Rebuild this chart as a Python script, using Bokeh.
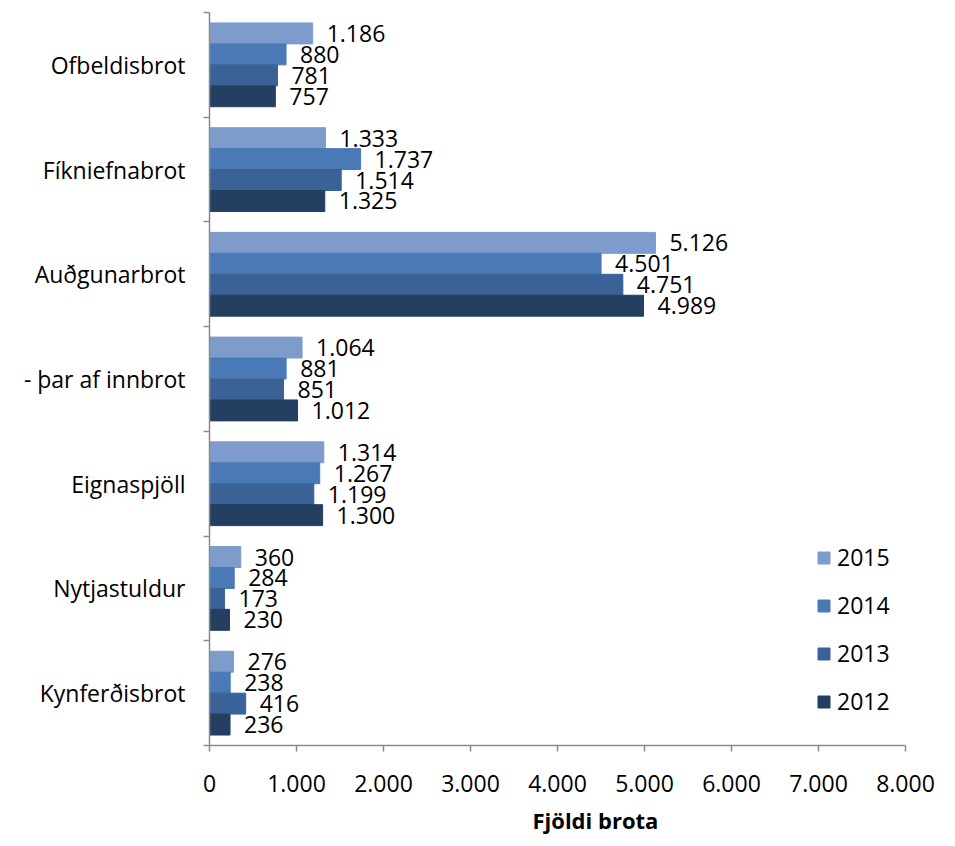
from bokeh.plotting import figure
from bokeh.models import FixedTicker, Range1d, ColumnDataSource, Title
from bokeh.transform import dodge
from bokeh.core.properties import value
from bokeh.embed import file_html
from bokeh.resources import INLINE

categories = ["Ofbeldisbrot", "Fíkniefnabrot", "Auðgunarbrot", "- þar af innbrot",
              "Eignaspjöll", "Nytjastuldur", "Kynferðisbrot"]
years = ["2015", "2014", "2013", "2012"]
v2015 = [1186, 1333, 5126, 1064, 1314, 360, 276]
v2014 = [880, 1737, 4501, 881, 1267, 284, 238]
v2013 = [781, 1514, 4751, 851, 1199, 173, 416]
v2012 = [757, 1325, 4989, 1012, 1300, 230, 236]
x_ticks = [0, 1000, 2000, 3000, 4000, 5000, 6000, 7000, 8000]
x_tick_labels = ["0", "1.000", "2.000", "3.000", "4.000", "5.000", "6.000", "7.000", "8.000"]
colors = ["#7E9CCB", "#4A7AB5", "#3B6296", "#243F62"]
axis_title = "Fjöldi brota"

FONT = "Open Sans"
FS = "23px"

def fmt(v):
    return f"{v:,}".replace(",", ".")

n = len(categories)
ypos = [n - 1 - i + 0.5 for i in range(n)]
series = {"2015": v2015, "2014": v2014, "2013": v2013, "2012": v2012}
data = dict(cat=categories, ypos=ypos)
for y, vals in series.items():
    data["v" + y] = vals
    data["l" + y] = [fmt(v) for v in vals]
src = ColumnDataSource(data)

p = figure(width=950, height=846, output_backend="svg", toolbar_location=None,
           x_range=Range1d(0, 8000), y_range=Range1d(0, n),
           min_border_left=209, min_border_right=45, min_border_top=12, min_border_bottom=101)
p.outline_line_color = None
p.xgrid.visible = False
p.ygrid.visible = False

offsets = [0.3, 0.1, -0.1, -0.3]
for y, off, c in zip(years, offsets, colors):
    p.hbar(y=dodge("ypos", off), left=0, right="v" + y, height=0.2, source=src,
           fill_color=c, line_color=c, legend_label=y)
for y, off in zip(years, offsets):
    p.text(x="v" + y, y=dodge("ypos", off), text="l" + y, source=src, x_offset=14,
           text_baseline="middle", text_align="left", text_font=value(FONT),
           text_font_size=FS, text_color="#000000")

axc = "#8a8a8a"
xa = p.xaxis[0]
xa.ticker = FixedTicker(ticks=x_ticks)
xa.major_label_overrides = {t: l for t, l in zip(x_ticks, x_tick_labels)}
xa.axis_line_color = axc
xa.axis_line_width = 1.5
xa.major_tick_line_color = axc
xa.major_tick_line_width = 1.5
xa.major_tick_out = 6
xa.major_tick_in = 0
xa.minor_tick_line_color = None
xa.major_label_text_font = FONT
xa.major_label_text_font_size = FS
xa.major_label_text_color = "#000000"
xa.major_label_standoff = 23

ya = p.yaxis[0]
ya.ticker = FixedTicker(ticks=ypos, minor_ticks=list(range(n + 1)))
ya.major_label_overrides = {yp: c for yp, c in zip(ypos, categories)}
ya.axis_line_color = axc
ya.axis_line_width = 1.5
ya.major_tick_line_color = None
ya.major_tick_out = 0
ya.major_tick_in = 0
ya.minor_tick_line_color = axc
ya.minor_tick_line_width = 1.5
ya.minor_tick_out = 6
ya.minor_tick_in = 0
ya.major_label_text_font = FONT
ya.major_label_text_font_size = FS
ya.major_label_text_color = "#000000"
ya.major_label_standoff = 18

title = Title(text=axis_title, align="left", offset=323, standoff=20,
              text_font=FONT, text_font_style="bold", text_font_size="22px",
              text_line_height=0.5, vertical_align="top",
              text_color="#000000")
p.add_layout(title, "below")

lg = p.legend[0]
lg.location = (607, 28)
lg.padding = 0
lg.margin = 0
lg.border_line_alpha = 0
lg.background_fill_alpha = 0
lg.glyph_width = 15
lg.glyph_height = 15
lg.label_height = 31
lg.spacing = 16
lg.label_standoff = 6
lg.label_text_font = FONT
lg.label_text_font_size = FS
lg.label_text_color = "#000000"

open("out.html", "w").write(file_html(p, INLINE))
